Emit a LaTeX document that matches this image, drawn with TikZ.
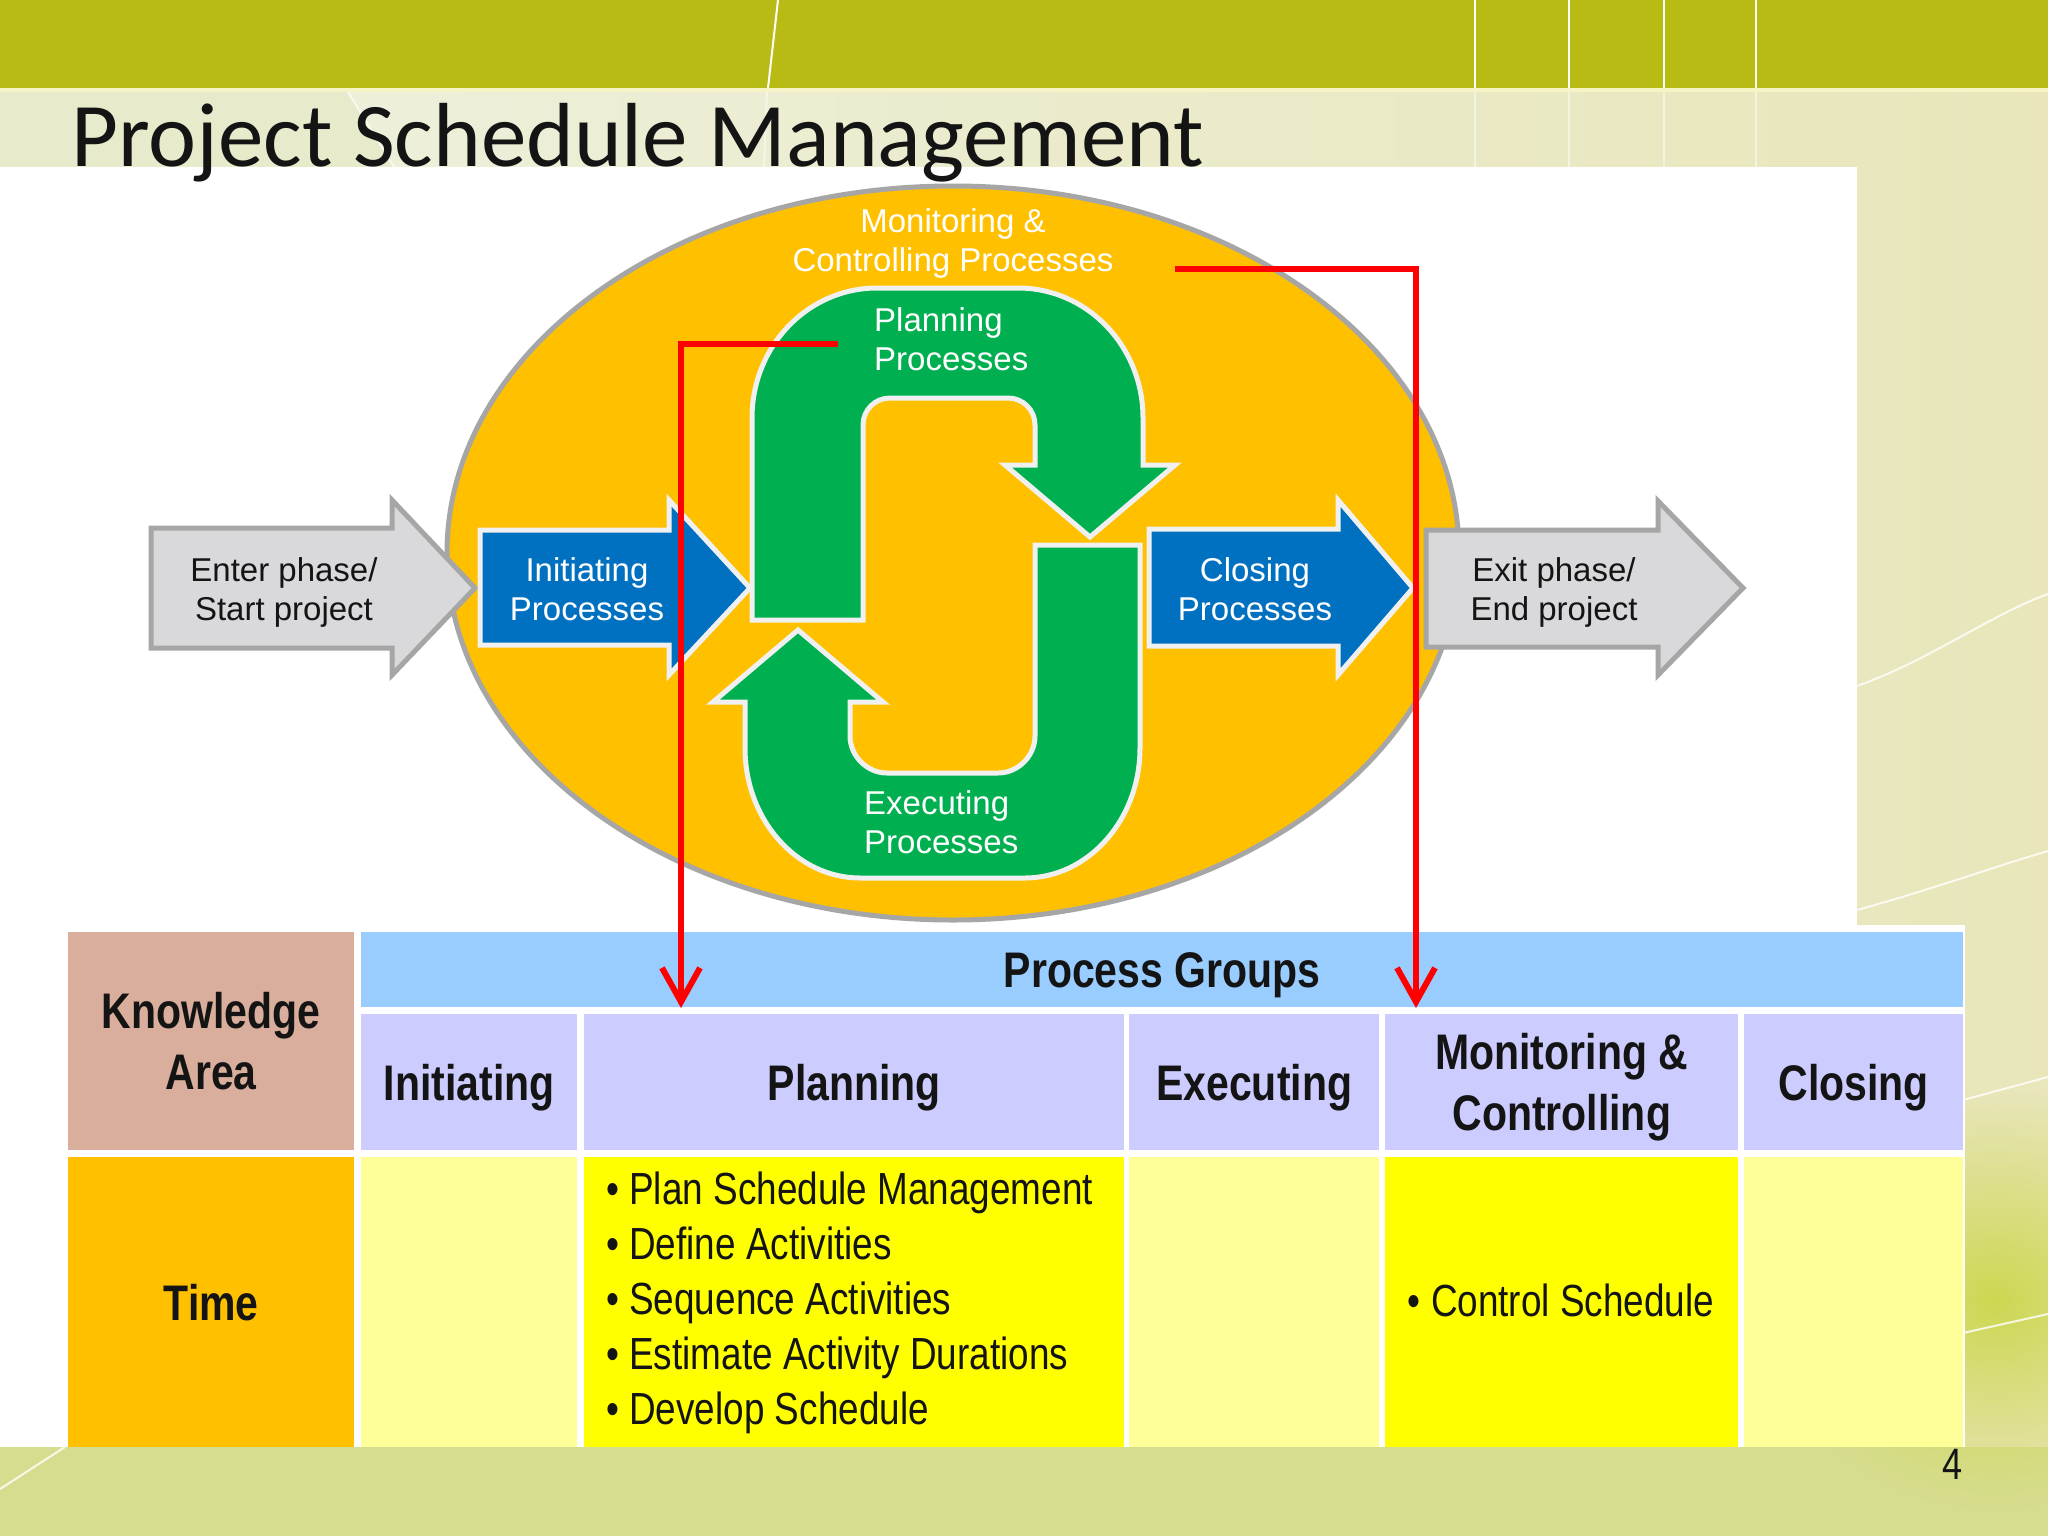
\documentclass[tikz,border=0pt]{standalone}
\usepackage{fontspec}
\setmainfont{Liberation Sans}
\newfontfamily\titlefont{Carlito}
\newfontfamily\narrowfont[FakeStretch=0.82]{Liberation Sans}
\usetikzlibrary{arrows.meta,fadings}
\tikzfading[name=glowfade, inner color=transparent!0, outer color=transparent!100]
\definecolor{band}{HTML}{B8BB14}
\definecolor{bandline}{HTML}{F6F4C4}
\definecolor{titlepatch}{HTML}{E8EBCB}
\definecolor{bgL}{HTML}{EEF1E0}
\definecolor{bgR}{HTML}{E8E6BA}
\definecolor{bgB}{HTML}{D7DD8F}
\definecolor{glowc}{HTML}{CAD646}
\definecolor{ell}{HTML}{FFC000}
\definecolor{ellb}{HTML}{A6A6A6}
\definecolor{grn}{HTML}{00B050}
\definecolor{blu}{HTML}{0070C0}
\definecolor{gry}{HTML}{D9D9DC}
\definecolor{edgew}{HTML}{F0F0F0}
\definecolor{cKA}{HTML}{D9AE9C}
\definecolor{cPG}{HTML}{99CCFF}
\definecolor{cHd}{HTML}{CCCCFF}
\definecolor{cLt}{HTML}{FFFF99}
\definecolor{cYl}{HTML}{FFFF00}
\definecolor{cTm}{HTML}{FFC000}
\definecolor{ink}{HTML}{141414}
\newcommand\DiagFont{\fontsize{33}{39}\selectfont}
\newcommand\TabHead{\narrowfont\bfseries\fontsize{50}{61}\selectfont}
\newcommand\TabBody{\narrowfont\fontsize{45}{55}\selectfont}
\tikzset{
  greenshape/.style={fill=grn, draw=edgew, line width=5pt, line join=miter},
  bluearrow/.style={fill=blu, draw=edgew, line width=5pt, line join=miter},
  grayarrow/.style={fill=gry, draw=ellb, line width=5pt, line join=miter},
  wtxt/.style={text=white, inner sep=0pt, font=\DiagFont},
  btxt/.style={text=ink, inner sep=0pt, font=\DiagFont},
  cell/.style={inner sep=0pt, anchor=north west, text=ink, align=center, font=\TabHead, text depth=0pt},
  redline/.style={draw=red, line width=6pt, -{Straight Barb[length=34pt,width=38pt]}},
  deco/.style={draw=white, line width=2pt},
}
\begin{document}
\begin{tikzpicture}[x=1pt,y=-1pt]
\useasboundingbox (0,0) rectangle (2048,1536);
% background
\shade[left color=bgL, right color=bgR] (0,0) rectangle (2048,1536);
\fill[bgB] (0,1447) rectangle (2048,1536);
\fill[glowc, path fading=glowfade, opacity=0.9] (1995,1300) ellipse [x radius=230, y radius=210];
\fill[band] (0,0) rectangle (2048,88);
\fill[bandline] (0,88) rectangle (2048,92);
\fill[titlepatch] (0,92) -- (348,92) -- (394,167) -- (0,167) -- cycle;
\draw[deco, opacity=0.7] (348,92) -- (394,167);
% decorative lines
\draw[deco] (778,0) -- (768,88);
\draw[deco, opacity=0.5] (767,92) -- (764,167);
\foreach \xx in {1475,1569,1664,1756} {
  \draw[deco] (\xx,0) -- (\xx,88);
  \draw[deco, opacity=0.5] (\xx,92) -- (\xx,167);
}
\draw[deco, opacity=0.8] (1857,686) .. controls (1930,660) and (1990,615) .. (2048,594);
\draw[deco, opacity=0.8] (1857,910) .. controls (1930,890) and (1990,868) .. (2048,851);
\draw[deco, opacity=0.8] (1963,1100) -- (2048,1077);
\draw[deco, opacity=0.8] (1963,1333) -- (2048,1314);
\draw[deco, opacity=0.8] (0,1489) -- (65,1447);
% white panel
\fill[white] (0,167) rectangle (1857,1447);
\fill[white] (61,925) rectangle (1965,1447);
% title
\node[anchor=base west, inner sep=0pt, text=ink, font=\titlefont\fontsize{91}{100}\selectfont] (title) at (71,167)
  {Project Schedule Management};
% ellipse
\draw[ellb, line width=5pt, fill=ell] (953,553) ellipse [x radius=506, y radius=367];
% gray arrows
\filldraw[grayarrow] (151,528) -- (392,528) -- (392,500) -- (475,588) -- (392,675) -- (392,648) -- (151,648) -- cycle;
\filldraw[grayarrow] (1426,530) -- (1658,530) -- (1658,501) -- (1743,588) -- (1658,675) -- (1658,647) -- (1426,647) -- cycle;
% blue arrows
\filldraw[bluearrow] (480,530) -- (669,530) -- (669,500) -- (750,588) -- (669,675) -- (669,645) -- (480,645) -- cycle;
\filldraw[bluearrow] (1149,529) -- (1338,529) -- (1338,500) -- (1413,588) -- (1338,675) -- (1338,646) -- (1149,646) -- cycle;
% green U-turn arrows
\filldraw[greenshape] (752,620) -- (752,418) .. controls (752,346) and (808,288) .. (877,288)
  -- (1018,288) .. controls (1087,288) and (1143,346) .. (1143,418)
  -- (1143,465) -- (1175,465) -- (1090,537) -- (1005,465) -- (1035,465)
  -- (1035,425) .. controls (1035,410) and (1023,398) .. (1008,398)
  -- (890,398) .. controls (875,398) and (863,410) .. (863,425) -- (863,620) -- cycle;
\filldraw[greenshape] (1035,545) -- (1140,545) -- (1140,748) .. controls (1140,820) and (1088,878) .. (1025,878)
  -- (860,878) .. controls (797,878) and (745,820) .. (745,748)
  -- (745,702) -- (713,702) -- (798,630) -- (883,702) -- (850,702)
  -- (850,736) .. controls (850,756) and (867,773) .. (887,773)
  -- (998,773) .. controls (1018,773) and (1035,756) .. (1035,736) -- cycle;
% diagram texts (base = baseline of last line)
\node[wtxt, anchor=base, align=center] (mc) at (953,271) {Monitoring \&\\Controlling Processes};
\node[wtxt, anchor=base west, align=left] (pl) at (874,370) {Planning\\Processes};
\node[wtxt, anchor=base west, align=left] (ex) at (864,853) {Executing\\Processes};
\node[wtxt, anchor=base, align=center] (in) at (587,620) {Initiating\\Processes};
\node[wtxt, anchor=base, align=center] (cl) at (1255,620) {Closing\\Processes};
\node[btxt, anchor=base, align=center] (en) at (284,620) {Enter phase/\\Start project};
\node[btxt, anchor=base, align=center] (xt) at (1554,620) {Exit phase/\\End project};
% table
\node[cell, fill=cKA, minimum width=286pt, minimum height=218pt] (ka) at (68,932) {Knowledge\\Area};
\node[cell, fill=cPG, minimum width=1602pt, minimum height=75pt] (pg) at (361,932) {Process Groups};
\node[cell, fill=cHd, minimum width=216pt, minimum height=136pt] (hI) at (361,1014) {Initiating};
\node[cell, fill=cHd, minimum width=540pt, minimum height=136pt] (hP) at (584,1014) {Planning};
\node[cell, fill=cHd, minimum width=250pt, minimum height=136pt] (hE) at (1129,1014) {Executing};
\node[cell, fill=cHd, minimum width=353pt, minimum height=136pt] (hM) at (1385,1014) {Monitoring \&\\Controlling};
\node[cell, fill=cHd, minimum width=219pt, minimum height=136pt] (hC) at (1744,1014) {Closing};
\node[cell, fill=cTm, minimum width=286pt, minimum height=290pt] (tm) at (68,1157) {Time};
\node[cell, fill=cLt, minimum width=216pt, minimum height=290pt] (bI) at (361,1157) {};
\node[cell, fill=cYl, minimum width=540pt, minimum height=290pt] (bP) at (584,1157) {};
\node[cell, fill=cLt, minimum width=250pt, minimum height=290pt] (bE) at (1129,1157) {};
\node[cell, fill=cYl, minimum width=353pt, minimum height=290pt] (bM) at (1385,1157) {};
\node[cell, fill=cLt, minimum width=219pt, minimum height=290pt] (bC) at (1744,1157) {};
\node[inner sep=0pt, anchor=west, align=left, text=ink, font=\TabBody] (lP) at (606,1303) {%
  \textbullet\ Plan Schedule Management\\
  \textbullet\ Define Activities\\
  \textbullet\ Sequence Activities\\
  \textbullet\ Estimate Activity Durations\\
  \textbullet\ Develop Schedule};
\node[inner sep=0pt, text=ink, font=\TabBody] (lM) at (1561,1300) {\textbullet\ Control Schedule};
\node[inner sep=0pt, anchor=base east, text=ink, font=\narrowfont\fontsize{44}{50}\selectfont] (pn) at (1963,1479) {4};
% red connectors
\coordinate (r1s) at (838,344);
\coordinate (r1e) at (681,1008);
\coordinate (r2s) at (1175,269);
\coordinate (r2e) at (1416,1008);
\draw[redline] (r1s) -| (r1e);
\draw[redline] (r2s) -| (r2e);
\end{tikzpicture}
\end{document}
